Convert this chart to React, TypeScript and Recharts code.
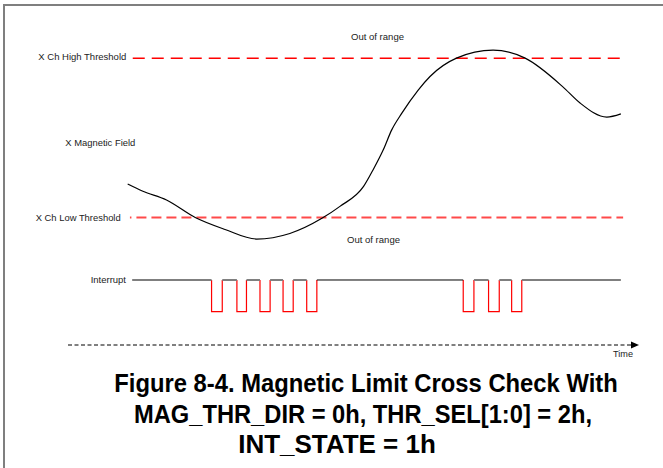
import { ComposedChart, Line, XAxis, YAxis, Label } from "recharts"

// time runs 0..100 along the time arrow; field is in threshold units (+1 high, -1 low)
const fieldTime = [10.6, 13.3, 17.5, 22.6, 27.9, 33.5, 39.4, 45.1, 48.3, 52.5, 54.2, 56.0, 57.5, 59.3, 62.2, 64.3, 69.0, 75.5, 81.2, 87.9, 90.9, 95.7, 98.2]
const fieldValue = [-0.58, -0.67, -0.78, -1.0, -1.15, -1.27, -1.2, -1.01, -0.86, -0.61, -0.4, -0.15, 0.1, 0.31, 0.6, 0.77, 1.0, 1.1, 1.0, 0.64, 0.44, 0.26, 0.3]

const highThreshold = 1
const lowThreshold = -1
const highSpan = [11.5, 98.2]
const lowSpan = [11.0, 98.6]

// interrupt: 1 = idle (high), 0 = asserted (low)
const interruptSpan = [11.4, 98.2]
const pulseStarts = [25.5, 30.0, 34.1, 38.2, 42.4, 70.2, 74.7, 78.8]
const pulseEnds = [27.4, 31.7, 35.9, 40.0, 44.2, 72.1, 76.6, 80.6]

const labels = {
  high: "X Ch High Threshold",
  low: "X Ch Low Threshold",
  field: "X Magnetic Field",
  out: "Out of range",
  interrupt: "Interrupt",
  time: "Time",
}
const titleLines = [
  "Figure 8-4. Magnetic Limit Cross Check With",
  "MAG_THR_DIR = 0h, THR_SEL[1:0] = 2h,",
  "INT_STATE = 1h",
]

const fieldData = fieldTime.map((t, i) => ({ t, v: fieldValue[i] }))
const highData = highSpan.map((t) => ({ t, v: highThreshold }))
const lowData = lowSpan.map((t) => ({ t, v: lowThreshold }))

const pulseData = pulseStarts.flatMap((s, i) => [
  { t: s, v: 1 },
  { t: s, v: 0 },
  { t: pulseEnds[i], v: 0 },
  { t: pulseEnds[i], v: 1 },
  { t: pulseEnds[i] + 0.01, v: null },
])

// idle stretches between pulses; the long one between the two bursts is drawn thin black
const idleEdges = [interruptSpan[0], ...pulseStarts.flatMap((s, i) => [s, pulseEnds[i]]), interruptSpan[1]]
const idleSegments: number[][] = []
for (let i = 0; i < idleEdges.length; i += 2) idleSegments.push([idleEdges[i], idleEdges[i + 1]])
const longest = Math.max(...idleSegments.map(([a, b]) => b - a))
const idleGray = idleSegments
  .filter(([a, b]) => b - a < longest)
  .flatMap(([a, b]) => [{ t: a, v: 1 }, { t: b, v: 1 }, { t: b + 0.01, v: null }])
const idleBlack = idleSegments
  .filter(([a, b]) => b - a === longest)
  .flatMap(([a, b]) => [{ t: a, v: 1 }, { t: b, v: 1 }])

const font = '"Liberation Sans", Arial, sans-serif'

function TimeArrow(props: any) {
  const { x, y, width } = props.viewBox
  const end = x + width
  return (
    <g>
      <polygon points={`${end},${y - 3.5} ${end + 8},${y} ${end},${y + 3.5}`} fill="#000" />
      <text x={end - 18} y={y + 12} fontSize={8.5} fontFamily={font} fill="#222" textLength={20} lengthAdjust="spacingAndGlyphs">
        {labels.time}
      </text>
    </g>
  )
}

function SmallText({ x, y, w, children }: { x: number; y: number; w: number; children: string }) {
  return (
    <text x={x} y={y} fontSize={9.5} fontFamily={font} fill="#222" textLength={w} lengthAdjust="spacingAndGlyphs">
      {children}
    </text>
  )
}

function TitleLine({ cx, top, sx, children }: { cx: number; top: number; sx: number; children: string }) {
  return (
    <div
      style={{
        position: "absolute",
        left: cx,
        top,
        whiteSpace: "nowrap",
        fontFamily: font,
        fontWeight: 700,
        fontSize: 26,
        lineHeight: "26px",
        color: "#000",
        transform: `translateX(-50%) scaleX(${sx})`,
      }}
    >
      {children}
    </div>
  )
}

export default function App() {
  return (
    <div style={{ position: "absolute", left: 0, top: 0, width: 663, height: 468, background: "#fff", overflow: "hidden" }}>
      <div style={{ position: "absolute", left: 3, top: 4, width: 700, height: 500, borderTop: "2px solid #7f7f7f", borderLeft: "2px solid #7f7f7f" }} />
      <ComposedChart width={663} height={468} margin={{ top: 0, right: 32, bottom: 93, left: 68 }} style={{ position: "absolute", left: 0, top: 0 }}>
        <XAxis
          type="number"
          dataKey="t"
          domain={[0, 100]}
          height={30}
          tick={false}
          tickLine={false}
          allowDataOverflow
          axisLine={{ stroke: "#000", strokeDasharray: "4 2.5", strokeWidth: 1 }}
        >
          <Label content={TimeArrow} />
        </XAxis>
        <YAxis yAxisId="field" hide type="number" domain={[-2.6, 1.73]} allowDataOverflow />
        <YAxis yAxisId="int" hide type="number" domain={[-1.05, 9.83]} allowDataOverflow />
        <Line yAxisId="field" data={highData} dataKey="v" type="linear" stroke="#ff0000" strokeWidth={1.5} strokeDasharray="12 7" dot={false} activeDot={false} isAnimationActive={false} />
        <Line yAxisId="field" data={lowData} dataKey="v" type="linear" stroke="#ff4a4a" strokeWidth={1.8} strokeDasharray="10 5" strokeDashoffset={8.5} dot={false} activeDot={false} isAnimationActive={false} />
        <Line yAxisId="field" data={fieldData} dataKey="v" type="monotone" stroke="#000" strokeWidth={1.2} dot={false} activeDot={false} isAnimationActive={false} />
        <Line yAxisId="int" data={pulseData} dataKey="v" type="linear" stroke="#ff0000" strokeWidth={1.2} dot={false} activeDot={false} isAnimationActive={false} />
        <Line yAxisId="int" data={idleGray} dataKey="v" type="linear" stroke="#7f7f7f" strokeWidth={2} dot={false} activeDot={false} isAnimationActive={false} />
        <Line yAxisId="int" data={idleBlack} dataKey="v" type="linear" stroke="#000" strokeWidth={1} dot={false} activeDot={false} isAnimationActive={false} />
      </ComposedChart>
      <svg width={663} height={468} style={{ position: "absolute", left: 0, top: 0, pointerEvents: "none" }}>
        <SmallText x={351} y={40} w={53}>{labels.out}</SmallText>
        <SmallText x={38.3} y={60} w={88}>{labels.high}</SmallText>
        <SmallText x={65.3} y={146} w={70}>{labels.field}</SmallText>
        <SmallText x={35.7} y={221} w={85}>{labels.low}</SmallText>
        <SmallText x={347} y={242.7} w={53}>{labels.out}</SmallText>
        <SmallText x={90.7} y={283} w={35.3}>{labels.interrupt}</SmallText>
      </svg>
      <TitleLine cx={366} top={370} sx={0.915}>{titleLines[0]}</TitleLine>
      <TitleLine cx={363} top={401} sx={0.911}>{titleLines[1]}</TitleLine>
      <TitleLine cx={337} top={431} sx={1.0}>{titleLines[2]}</TitleLine>
    </div>
  )
}
